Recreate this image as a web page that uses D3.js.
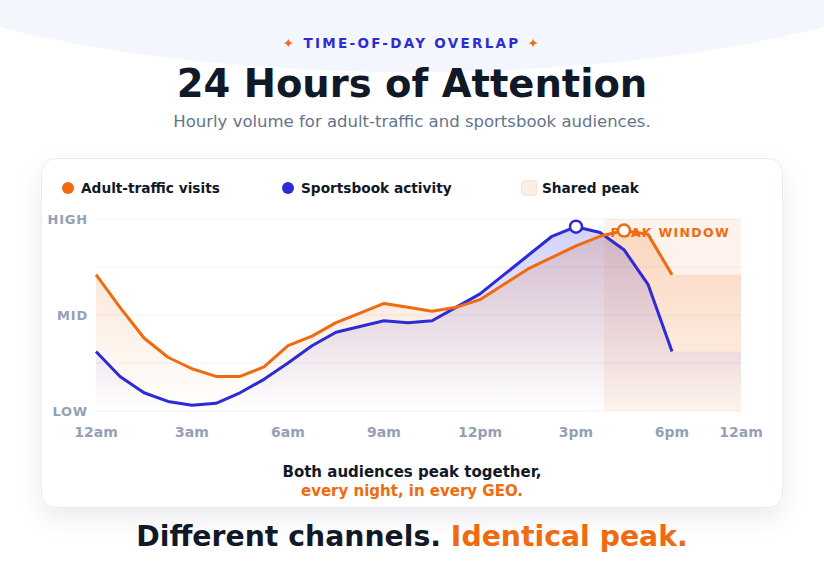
<!DOCTYPE html>
<html>
<head>
<meta charset="utf-8">
<script src="https://cdn.jsdelivr.net/npm/d3@7"></script>
<style>
    body { margin: 0; background: #fff; font-family: "DejaVu Sans", sans-serif; }
    svg { display: block; }
</style>
</head>
<body>
<div id="chart"></div>
<script>

// readings in time slots, midnight round to the next midnight
let adultVisits = [71, 54, 38, 28, 22, 18, 18, 23, 34, 39, 46, 51, 56, 54, 52, 54, 58, 66, 74, 80, 86, 91, 94, 92, 71];
let sportsbook  = [31, 18, 9.5, 5, 3, 4, 9.5, 16.5, 25, 34, 41, 44, 47, 46, 47, 54, 61, 71, 81, 91, 96, 93, 84, 66, 31];

let tickLabels = ["12am", "3am", "6am", "9am", "12pm", "3pm", "6pm", "12am"];
let tickSlots  = [0, 4, 8, 12, 16, 20, 24, 26.875];
let levelLabels = ["LOW", "MID", "HIGH"];
let levelValues = [0, 50, 100];
let gridValues  = [0, 25, 50, 75, 100];
let peakWindow  = [21.17, 26.875];
let legendNames = ["Adult-traffic visits", "Sportsbook activity", "Shared peak"];

let orange = "#f06a10",
    blue = "#2e2bd6",
    navy = "#111827",
    slate = "#96a0b5";

let width = 824, height = 584;

let svg = d3.select("#chart").append("svg")
    .attr("width", width)
    .attr("height", height)
    .style("font-family", "'DejaVu Sans', sans-serif");

let defs = svg.append("defs");

// soft shadow for the card
let shadow = defs.append("filter").attr("id", "shadow")
    .attr("x", "-10%").attr("y", "-10%").attr("width", "120%").attr("height", "140%");
shadow.append("feDropShadow")
    .attr("dx", 0).attr("dy", 10).attr("stdDeviation", 12)
    .attr("flood-color", "#1e293b").attr("flood-opacity", 0.08);

// background blob at the top
svg.append("ellipse")
    .attr("cx", width / 2).attr("cy", -106)
    .attr("rx", 620).attr("ry", 178)
    .attr("fill", "#f3f6fd");

// header
let kicker = svg.append("text")
    .attr("x", width / 2).attr("y", 48)
    .attr("text-anchor", "middle")
    .style("font-size", "13.5px").style("font-weight", "bold")
    .style("letter-spacing", "2.3px");
kicker.append("tspan").attr("fill", orange).text("✦ ");
kicker.append("tspan").attr("fill", "#2f2bd3").text("TIME-OF-DAY OVERLAP");
kicker.append("tspan").attr("fill", orange).text(" ✦");

svg.append("text")
    .attr("x", width / 2).attr("y", 97)
    .attr("text-anchor", "middle")
    .attr("fill", navy)
    .style("font-size", "38.5px").style("font-weight", "bold")
    .text("24 Hours of Attention");

svg.append("text")
    .attr("x", width / 2).attr("y", 127)
    .attr("text-anchor", "middle")
    .attr("fill", "#64748b")
    .style("font-size", "16.5px")
    .text("Hourly volume for adult-traffic and sportsbook audiences.");

// card
svg.append("rect")
    .attr("x", 41.5).attr("y", 158.5)
    .attr("width", 741).attr("height", 349)
    .attr("rx", 14)
    .attr("fill", "#fff")
    .attr("stroke", "#e8ebf0")
    .attr("filter", "url(#shadow)");

// legend
let legend = svg.append("g").attr("transform", "translate(68,188)");
let legendX = [0, 220, 461];
legendNames.forEach(function(name, i) {
    let g = legend.append("g").attr("transform", "translate(" + legendX[i] + ",0)");
    if (i < 2) {
        g.append("circle").attr("r", 6).attr("fill", i === 0 ? orange : blue);
    } else {
        g.append("rect")
            .attr("x", -7.5).attr("y", -7.5).attr("width", 15).attr("height", 15).attr("rx", 3)
            .attr("fill", "#fdeee3").attr("stroke", "#fbe0cc");
    }
    g.append("text")
        .attr("x", 13).attr("y", 5)
        .attr("fill", navy)
        .style("font-size", "13.7px").style("font-weight", "bold")
        .text(name);
});

// Scales
let x = d3.scaleLinear().domain([0, 26.875]).range([96, 741]);
let y = d3.scaleLinear().domain([0, 100]).range([411, 219]);

// gridlines
svg.append("g").selectAll("line")
    .data(gridValues).enter().append("line")
    .attr("x1", x(0)).attr("x2", x(x.domain()[1]))
    .attr("y1", d => y(d)).attr("y2", d => y(d))
    .attr("stroke", "#f0f2f6").attr("stroke-width", 1);

// y labels
svg.append("g").selectAll("text")
    .data(levelValues).enter().append("text")
    .attr("x", 88).attr("y", d => y(d) + 5)
    .attr("text-anchor", "end")
    .attr("fill", slate)
    .style("font-size", "13px").style("font-weight", "bold")
    .style("letter-spacing", "0.8px")
    .text((d, i) => levelLabels[i]);

// x labels
svg.append("g").selectAll("text")
    .data(tickSlots).enter().append("text")
    .attr("x", d => x(d)).attr("y", 437)
    .attr("text-anchor", "middle")
    .attr("fill", slate)
    .style("font-size", "14px").style("font-weight", "bold")
    .text((d, i) => tickLabels[i]);

// peak window
svg.append("rect")
    .attr("x", x(peakWindow[0])).attr("y", y(100))
    .attr("width", x(peakWindow[1]) - x(peakWindow[0]))
    .attr("height", y(0) - y(100))
    .attr("fill", orange).attr("fill-opacity", 0.08);

// area gradients
function makeGradient(id, color, top) {
    let g = defs.append("linearGradient").attr("id", id)
        .attr("gradientUnits", "userSpaceOnUse")
        .attr("x1", 0).attr("x2", 0).attr("y1", y(100)).attr("y2", y(0));
    g.append("stop").attr("offset", "0%").attr("stop-color", color).attr("stop-opacity", top);
    g.append("stop").attr("offset", "100%").attr("stop-color", color).attr("stop-opacity", 0);
}
makeGradient("gradOrange", orange, 0.22);
makeGradient("gradBlue", blue, 0.22);

function toPoints(values) {
    return values.map((v, i) => ({ s: i, v: v }));
}
// the fill carries on flat to the end of the plot
function toAreaPoints(values) {
    let pts = toPoints(values);
    pts.push({ s: x.domain()[1], v: values[values.length - 1] });
    return pts;
}

let area = d3.area().x(d => x(d.s)).y0(y(0)).y1(d => y(d.v));
let line = d3.line().x(d => x(d.s)).y(d => y(d.v));

svg.append("path").datum(toAreaPoints(adultVisits))
    .attr("d", area).attr("fill", "url(#gradOrange)");
svg.append("path").datum(toAreaPoints(sportsbook))
    .attr("d", area).attr("fill", "url(#gradBlue)");

svg.append("text")
    .attr("x", 730).attr("y", y(100) + 18)
    .attr("text-anchor", "end")
    .attr("fill", orange)
    .style("font-size", "12.5px").style("font-weight", "bold")
    .style("letter-spacing", "1.3px")
    .text("PEAK WINDOW");

svg.append("path").datum(toPoints(sportsbook))
    .attr("d", line).attr("fill", "none")
    .attr("stroke", blue).attr("stroke-width", 3)
    .attr("stroke-linejoin", "round");
svg.append("path").datum(toPoints(adultVisits))
    .attr("d", line).attr("fill", "none")
    .attr("stroke", orange).attr("stroke-width", 3)
    .attr("stroke-linejoin", "round");

// peak markers
[[sportsbook, blue], [adultVisits, orange]].forEach(function(pair) {
    let vals = pair[0];
    let i = d3.maxIndex(vals);
    svg.append("circle")
        .attr("cx", x(i)).attr("cy", y(vals[i]))
        .attr("r", 6)
        .attr("fill", "#fff")
        .attr("stroke", pair[1]).attr("stroke-width", 2.5);
});

// note inside the card
svg.append("text")
    .attr("x", width / 2).attr("y", 477)
    .attr("text-anchor", "middle").attr("fill", navy)
    .style("font-size", "15px").style("font-weight", "bold")
    .text("Both audiences peak together,");
svg.append("text")
    .attr("x", width / 2).attr("y", 496)
    .attr("text-anchor", "middle").attr("fill", orange)
    .style("font-size", "15px").style("font-weight", "bold")
    .text("every night, in every GEO.");

// tagline
let tag = svg.append("text")
    .attr("x", width / 2).attr("y", 546)
    .attr("text-anchor", "middle")
    .style("font-size", "28.3px").style("font-weight", "bold");
tag.append("tspan").attr("fill", navy).text("Different channels. ");
tag.append("tspan").attr("fill", orange).text("Identical peak.");

</script>
</body>
</html>
